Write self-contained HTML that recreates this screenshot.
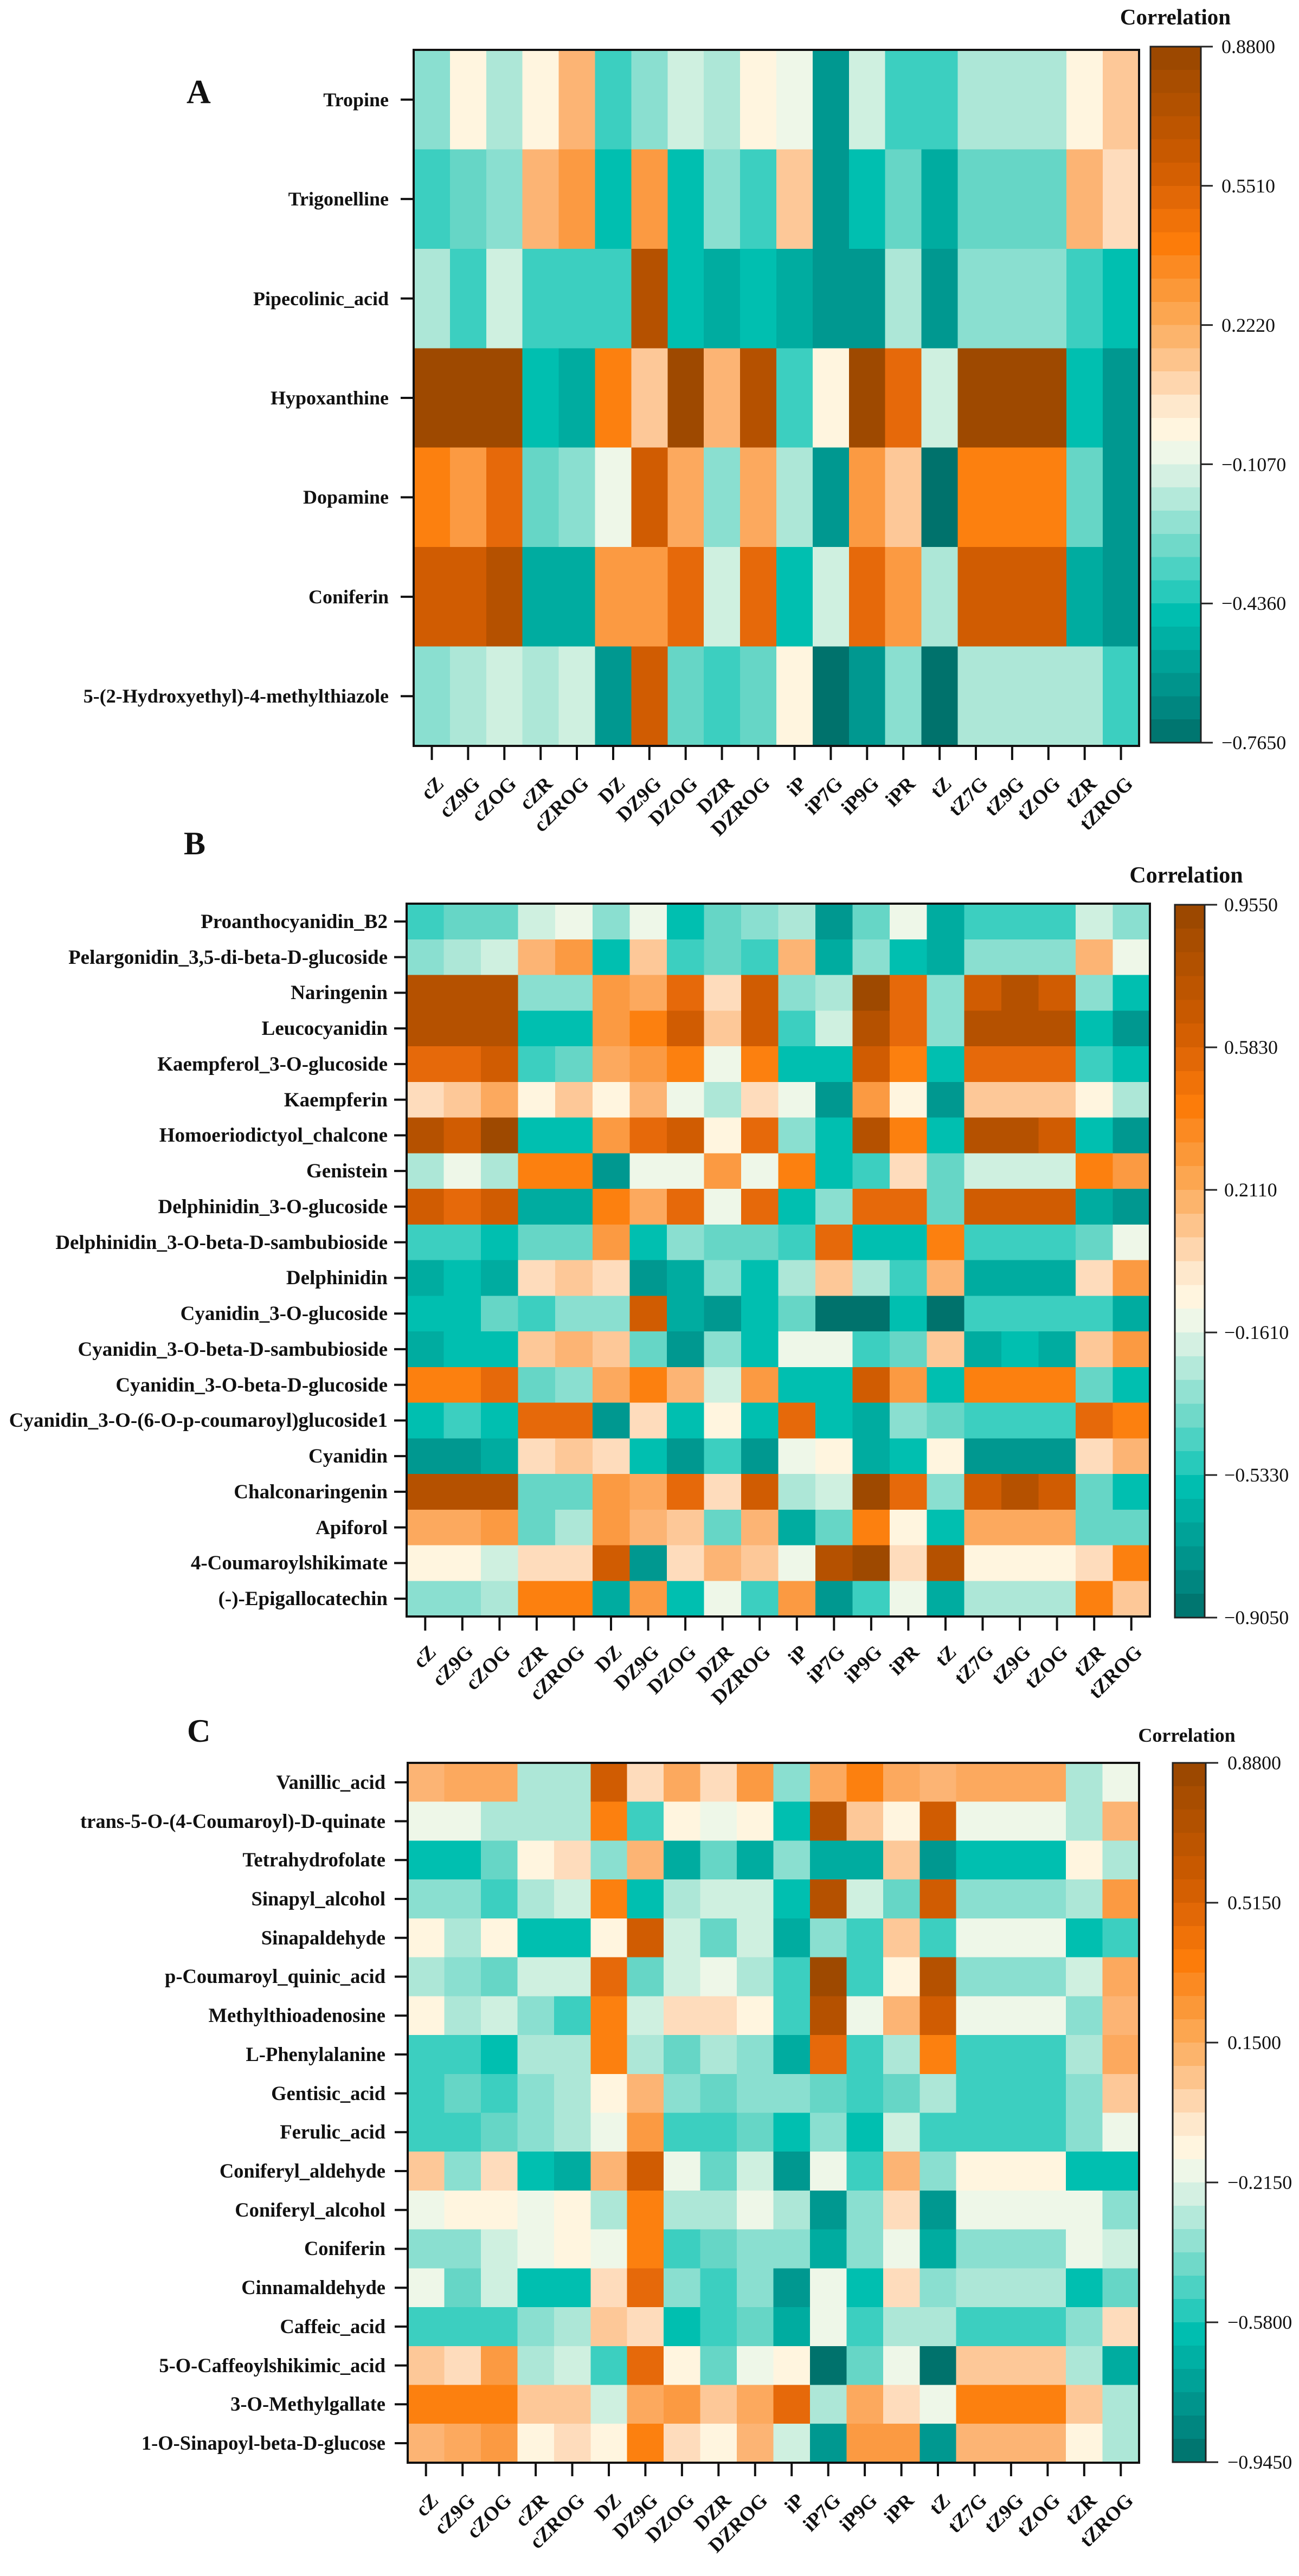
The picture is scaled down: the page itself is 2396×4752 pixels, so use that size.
<!DOCTYPE html>
<html><head><meta charset="utf-8"><style>
html,body{margin:0;padding:0;background:#fff}
svg{display:block}
text{font-family:"Liberation Serif","Times New Roman",serif;fill:#111}
.yl{font-weight:bold;font-size:36px;text-anchor:end}
.ylb{font-weight:bold;font-size:37px;text-anchor:end}
.xl{font-weight:bold;font-size:37px;text-anchor:end}
.cb{font-size:36px}
.ti{font-weight:bold;text-anchor:middle}
.t0{fill:#00726c}.t1{fill:#009890}.t2{fill:#00aca0}.t3{fill:#00bfb0}.t4{fill:#3ccfc0}.t5{fill:#66d6c6}.t6{fill:#8adfd0}.t7{fill:#ade7d7}.t8{fill:#cff0e0}.w1{fill:#eef7e8}.w2{fill:#fff5df}.o1{fill:#fedcbc}.o2{fill:#fdc898}.o3{fill:#fcb474}.oq{fill:#fca95e}.o4{fill:#fb9a42}.o5{fill:#fc800f}.o6{fill:#e6690a}.o7{fill:#d05c02}.o8{fill:#b55100}.o9{fill:#9e4900}
</style></head><body>
<svg width="2396" height="4752" viewBox="0 0 2396 4752" xmlns="http://www.w3.org/2000/svg">
<rect width="2396" height="4752" fill="#fff"/>
<defs>
<g id="cbar">
<rect x="0" y="0" width="1" height="1" fill="#9c4800"/><rect x="0" y="1" width="1" height="1" fill="#a84d00"/><rect x="0" y="2" width="1" height="1" fill="#b25100"/><rect x="0" y="3" width="1" height="1" fill="#bd5500"/><rect x="0" y="4" width="1" height="1" fill="#c85900"/><rect x="0" y="5" width="1" height="1" fill="#d45f02"/><rect x="0" y="6" width="1" height="1" fill="#e26806"/><rect x="0" y="7" width="1" height="1" fill="#f07208"/><rect x="0" y="8" width="1" height="1" fill="#fc7c0a"/><rect x="0" y="9" width="1" height="1" fill="#fb8a22"/><rect x="0" y="10" width="1" height="1" fill="#fb9838"/><rect x="0" y="11" width="1" height="1" fill="#fca650"/><rect x="0" y="12" width="1" height="1" fill="#fcb46c"/><rect x="0" y="13" width="1" height="1" fill="#fdc48c"/><rect x="0" y="14" width="1" height="1" fill="#fed6ae"/><rect x="0" y="15" width="1" height="1" fill="#fee8cc"/><rect x="0" y="16" width="1" height="1" fill="#fff5df"/><rect x="0" y="17" width="1" height="1" fill="#eef7e8"/><rect x="0" y="18" width="1" height="1" fill="#d4f0e2"/><rect x="0" y="19" width="1" height="1" fill="#b4e9da"/><rect x="0" y="20" width="1" height="1" fill="#92e1d2"/><rect x="0" y="21" width="1" height="1" fill="#70d9c9"/><rect x="0" y="22" width="1" height="1" fill="#4cd2c3"/><rect x="0" y="23" width="1" height="1" fill="#28cabb"/><rect x="0" y="24" width="1" height="1" fill="#00beb0"/><rect x="0" y="25" width="1" height="1" fill="#00b0a4"/><rect x="0" y="26" width="1" height="1" fill="#00a298"/><rect x="0" y="27" width="1" height="1" fill="#00948c"/><rect x="0" y="28" width="1" height="1" fill="#008680"/><rect x="0" y="29" width="1" height="1" fill="#007670"/>
</g>
</defs>

<!-- ================= PANEL A ================= -->
<text x="344" y="190" class="ti" style="font-size:62px;text-anchor:start">A</text>
<text x="2168" y="45" class="ti" style="font-size:41px">Correlation</text>

<g transform="translate(763,92) scale(66.9,183.43)" shape-rendering="crispEdges">
<rect x="0" y="0" width="1" height="1" class="t6"/><rect x="1" y="0" width="1" height="1" class="w2"/><rect x="2" y="0" width="1" height="1" class="t7"/><rect x="3" y="0" width="1" height="1" class="w2"/><rect x="4" y="0" width="1" height="1" class="o3"/><rect x="5" y="0" width="1" height="1" class="t4"/><rect x="6" y="0" width="1" height="1" class="t6"/><rect x="7" y="0" width="1" height="1" class="t8"/><rect x="8" y="0" width="1" height="1" class="t7"/><rect x="9" y="0" width="1" height="1" class="w2"/><rect x="10" y="0" width="1" height="1" class="w1"/><rect x="11" y="0" width="1" height="1" class="t1"/><rect x="12" y="0" width="1" height="1" class="t8"/><rect x="13" y="0" width="1" height="1" class="t4"/><rect x="14" y="0" width="1" height="1" class="t4"/><rect x="15" y="0" width="1" height="1" class="t7"/><rect x="16" y="0" width="1" height="1" class="t7"/><rect x="17" y="0" width="1" height="1" class="t7"/><rect x="18" y="0" width="1" height="1" class="w2"/><rect x="19" y="0" width="1" height="1" class="o2"/>
<rect x="0" y="1" width="1" height="1" class="t4"/><rect x="1" y="1" width="1" height="1" class="t5"/><rect x="2" y="1" width="1" height="1" class="t6"/><rect x="3" y="1" width="1" height="1" class="o3"/><rect x="4" y="1" width="1" height="1" class="o4"/><rect x="5" y="1" width="1" height="1" class="t3"/><rect x="6" y="1" width="1" height="1" class="o4"/><rect x="7" y="1" width="1" height="1" class="t3"/><rect x="8" y="1" width="1" height="1" class="t6"/><rect x="9" y="1" width="1" height="1" class="t4"/><rect x="10" y="1" width="1" height="1" class="o2"/><rect x="11" y="1" width="1" height="1" class="t1"/><rect x="12" y="1" width="1" height="1" class="t3"/><rect x="13" y="1" width="1" height="1" class="t5"/><rect x="14" y="1" width="1" height="1" class="t2"/><rect x="15" y="1" width="1" height="1" class="t5"/><rect x="16" y="1" width="1" height="1" class="t5"/><rect x="17" y="1" width="1" height="1" class="t5"/><rect x="18" y="1" width="1" height="1" class="o3"/><rect x="19" y="1" width="1" height="1" class="o1"/>
<rect x="0" y="2" width="1" height="1" class="t7"/><rect x="1" y="2" width="1" height="1" class="t4"/><rect x="2" y="2" width="1" height="1" class="t8"/><rect x="3" y="2" width="1" height="1" class="t4"/><rect x="4" y="2" width="1" height="1" class="t4"/><rect x="5" y="2" width="1" height="1" class="t4"/><rect x="6" y="2" width="1" height="1" class="o8"/><rect x="7" y="2" width="1" height="1" class="t3"/><rect x="8" y="2" width="1" height="1" class="t2"/><rect x="9" y="2" width="1" height="1" class="t3"/><rect x="10" y="2" width="1" height="1" class="t2"/><rect x="11" y="2" width="1" height="1" class="t1"/><rect x="12" y="2" width="1" height="1" class="t1"/><rect x="13" y="2" width="1" height="1" class="t7"/><rect x="14" y="2" width="1" height="1" class="t1"/><rect x="15" y="2" width="1" height="1" class="t6"/><rect x="16" y="2" width="1" height="1" class="t6"/><rect x="17" y="2" width="1" height="1" class="t6"/><rect x="18" y="2" width="1" height="1" class="t4"/><rect x="19" y="2" width="1" height="1" class="t3"/>
<rect x="0" y="3" width="1" height="1" class="o9"/><rect x="1" y="3" width="1" height="1" class="o9"/><rect x="2" y="3" width="1" height="1" class="o9"/><rect x="3" y="3" width="1" height="1" class="t3"/><rect x="4" y="3" width="1" height="1" class="t2"/><rect x="5" y="3" width="1" height="1" class="o5"/><rect x="6" y="3" width="1" height="1" class="o2"/><rect x="7" y="3" width="1" height="1" class="o9"/><rect x="8" y="3" width="1" height="1" class="o3"/><rect x="9" y="3" width="1" height="1" class="o8"/><rect x="10" y="3" width="1" height="1" class="t4"/><rect x="11" y="3" width="1" height="1" class="w2"/><rect x="12" y="3" width="1" height="1" class="o9"/><rect x="13" y="3" width="1" height="1" class="o6"/><rect x="14" y="3" width="1" height="1" class="t8"/><rect x="15" y="3" width="1" height="1" class="o9"/><rect x="16" y="3" width="1" height="1" class="o9"/><rect x="17" y="3" width="1" height="1" class="o9"/><rect x="18" y="3" width="1" height="1" class="t3"/><rect x="19" y="3" width="1" height="1" class="t1"/>
<rect x="0" y="4" width="1" height="1" class="o5"/><rect x="1" y="4" width="1" height="1" class="o4"/><rect x="2" y="4" width="1" height="1" class="o6"/><rect x="3" y="4" width="1" height="1" class="t5"/><rect x="4" y="4" width="1" height="1" class="t6"/><rect x="5" y="4" width="1" height="1" class="w1"/><rect x="6" y="4" width="1" height="1" class="o7"/><rect x="7" y="4" width="1" height="1" class="oq"/><rect x="8" y="4" width="1" height="1" class="t6"/><rect x="9" y="4" width="1" height="1" class="oq"/><rect x="10" y="4" width="1" height="1" class="t7"/><rect x="11" y="4" width="1" height="1" class="t1"/><rect x="12" y="4" width="1" height="1" class="o4"/><rect x="13" y="4" width="1" height="1" class="o2"/><rect x="14" y="4" width="1" height="1" class="t0"/><rect x="15" y="4" width="1" height="1" class="o5"/><rect x="16" y="4" width="1" height="1" class="o5"/><rect x="17" y="4" width="1" height="1" class="o5"/><rect x="18" y="4" width="1" height="1" class="t5"/><rect x="19" y="4" width="1" height="1" class="t1"/>
<rect x="0" y="5" width="1" height="1" class="o7"/><rect x="1" y="5" width="1" height="1" class="o7"/><rect x="2" y="5" width="1" height="1" class="o8"/><rect x="3" y="5" width="1" height="1" class="t2"/><rect x="4" y="5" width="1" height="1" class="t2"/><rect x="5" y="5" width="1" height="1" class="o4"/><rect x="6" y="5" width="1" height="1" class="o4"/><rect x="7" y="5" width="1" height="1" class="o6"/><rect x="8" y="5" width="1" height="1" class="t8"/><rect x="9" y="5" width="1" height="1" class="o6"/><rect x="10" y="5" width="1" height="1" class="t3"/><rect x="11" y="5" width="1" height="1" class="t8"/><rect x="12" y="5" width="1" height="1" class="o6"/><rect x="13" y="5" width="1" height="1" class="o4"/><rect x="14" y="5" width="1" height="1" class="t7"/><rect x="15" y="5" width="1" height="1" class="o7"/><rect x="16" y="5" width="1" height="1" class="o7"/><rect x="17" y="5" width="1" height="1" class="o7"/><rect x="18" y="5" width="1" height="1" class="t2"/><rect x="19" y="5" width="1" height="1" class="t1"/>
<rect x="0" y="6" width="1" height="1" class="t6"/><rect x="1" y="6" width="1" height="1" class="t7"/><rect x="2" y="6" width="1" height="1" class="t8"/><rect x="3" y="6" width="1" height="1" class="t7"/><rect x="4" y="6" width="1" height="1" class="t8"/><rect x="5" y="6" width="1" height="1" class="t1"/><rect x="6" y="6" width="1" height="1" class="o7"/><rect x="7" y="6" width="1" height="1" class="t5"/><rect x="8" y="6" width="1" height="1" class="t4"/><rect x="9" y="6" width="1" height="1" class="t5"/><rect x="10" y="6" width="1" height="1" class="w2"/><rect x="11" y="6" width="1" height="1" class="t0"/><rect x="12" y="6" width="1" height="1" class="t1"/><rect x="13" y="6" width="1" height="1" class="t6"/><rect x="14" y="6" width="1" height="1" class="t0"/><rect x="15" y="6" width="1" height="1" class="t7"/><rect x="16" y="6" width="1" height="1" class="t7"/><rect x="17" y="6" width="1" height="1" class="t7"/><rect x="18" y="6" width="1" height="1" class="t7"/><rect x="19" y="6" width="1" height="1" class="t4"/>
</g>
<rect x="763" y="92" width="1338" height="1284" fill="none" stroke="#111" stroke-width="4"/>

<path d="M739 183.7h24M739 367.1h24M739 550.6h24M739 734h24M739 917.4h24M739 1100.9h24M739 1284.3h24" stroke="#111" stroke-width="4"/>
<text class="yl" x="717" y="196">Tropine</text>
<text class="yl" x="717" y="379">Trigonelline</text>
<text class="yl" x="717" y="563">Pipecolinic_acid</text>
<text class="yl" x="717" y="746">Hypoxanthine</text>
<text class="yl" x="717" y="929">Dopamine</text>
<text class="yl" x="717" y="1113">Coniferin</text>
<text class="yl" x="717" y="1296">5-(2-Hydroxyethyl)-4-methylthiazole</text>

<path d="M796.5 1376v26M863.4 1376v26M930.3 1376v26M997.2 1376v26M1064 1376v26M1131 1376v26M1197.8 1376v26M1264.7 1376v26M1331.6 1376v26M1398.5 1376v26M1465.5 1376v26M1532.4 1376v26M1599.3 1376v26M1666.2 1376v26M1733.1 1376v26M1800 1376v26M1866.9 1376v26M1933.8 1376v26M2000.7 1376v26M2067.6 1376v26" stroke="#111" stroke-width="4"/>
<text class="xl" transform="translate(820.5,1448) rotate(-45)">cZ</text>
<text class="xl" transform="translate(887.4,1448) rotate(-45)">cZ9G</text>
<text class="xl" transform="translate(954.3,1448) rotate(-45)">cZOG</text>
<text class="xl" transform="translate(1021.2,1448) rotate(-45)">cZR</text>
<text class="xl" transform="translate(1088,1448) rotate(-45)">cZROG</text>
<text class="xl" transform="translate(1155,1448) rotate(-45)">DZ</text>
<text class="xl" transform="translate(1221.8,1448) rotate(-45)">DZ9G</text>
<text class="xl" transform="translate(1288.7,1448) rotate(-45)">DZOG</text>
<text class="xl" transform="translate(1355.6,1448) rotate(-45)">DZR</text>
<text class="xl" transform="translate(1422.5,1448) rotate(-45)">DZROG</text>
<text class="xl" transform="translate(1489.5,1448) rotate(-45)">iP</text>
<text class="xl" transform="translate(1556.4,1448) rotate(-45)">iP7G</text>
<text class="xl" transform="translate(1623.3,1448) rotate(-45)">iP9G</text>
<text class="xl" transform="translate(1690.2,1448) rotate(-45)">iPR</text>
<text class="xl" transform="translate(1757.1,1448) rotate(-45)">tZ</text>
<text class="xl" transform="translate(1824,1448) rotate(-45)">tZ7G</text>
<text class="xl" transform="translate(1890.9,1448) rotate(-45)">tZ9G</text>
<text class="xl" transform="translate(1957.8,1448) rotate(-45)">tZOG</text>
<text class="xl" transform="translate(2024.7,1448) rotate(-45)">tZR</text>
<text class="xl" transform="translate(2091.6,1448) rotate(-45)">tZROG</text>

<use href="#cbar" transform="translate(2122,86) scale(93,42.8)" shape-rendering="crispEdges"/>
<rect x="2122" y="86" width="93" height="1284" fill="none" stroke="#222" stroke-width="3"/>
<path d="M2215 86h22M2215 342.8h22M2215 599.6h22M2215 856.4h22M2215 1113.2h22M2215 1370h22" stroke="#222" stroke-width="3"/>
<text class="cb" x="2253" y="98">0.8800</text>
<text class="cb" x="2253" y="355">0.5510</text>
<text class="cb" x="2253" y="612">0.2220</text>
<text class="cb" x="2253" y="869">−0.1070</text>
<text class="cb" x="2253" y="1125">−0.4360</text>
<text class="cb" x="2253" y="1382">−0.7650</text>

<!-- ================= PANEL B ================= -->
<text x="339" y="1576" class="ti" style="font-size:60px;text-anchor:start">B</text>
<text x="2188" y="1628" class="ti" style="font-size:42px">Correlation</text>

<g transform="translate(750,1667) scale(68.55,65.75)" shape-rendering="crispEdges">
<rect x="0" y="0" width="1" height="1" class="t4"/><rect x="1" y="0" width="1" height="1" class="t5"/><rect x="2" y="0" width="1" height="1" class="t5"/><rect x="3" y="0" width="1" height="1" class="t8"/><rect x="4" y="0" width="1" height="1" class="w1"/><rect x="5" y="0" width="1" height="1" class="t6"/><rect x="6" y="0" width="1" height="1" class="w1"/><rect x="7" y="0" width="1" height="1" class="t3"/><rect x="8" y="0" width="1" height="1" class="t5"/><rect x="9" y="0" width="1" height="1" class="t6"/><rect x="10" y="0" width="1" height="1" class="t7"/><rect x="11" y="0" width="1" height="1" class="t1"/><rect x="12" y="0" width="1" height="1" class="t5"/><rect x="13" y="0" width="1" height="1" class="w1"/><rect x="14" y="0" width="1" height="1" class="t2"/><rect x="15" y="0" width="1" height="1" class="t4"/><rect x="16" y="0" width="1" height="1" class="t4"/><rect x="17" y="0" width="1" height="1" class="t4"/><rect x="18" y="0" width="1" height="1" class="t8"/><rect x="19" y="0" width="1" height="1" class="t6"/>
<rect x="0" y="1" width="1" height="1" class="t6"/><rect x="1" y="1" width="1" height="1" class="t7"/><rect x="2" y="1" width="1" height="1" class="t8"/><rect x="3" y="1" width="1" height="1" class="o3"/><rect x="4" y="1" width="1" height="1" class="o4"/><rect x="5" y="1" width="1" height="1" class="t3"/><rect x="6" y="1" width="1" height="1" class="o2"/><rect x="7" y="1" width="1" height="1" class="t4"/><rect x="8" y="1" width="1" height="1" class="t5"/><rect x="9" y="1" width="1" height="1" class="t4"/><rect x="10" y="1" width="1" height="1" class="o3"/><rect x="11" y="1" width="1" height="1" class="t2"/><rect x="12" y="1" width="1" height="1" class="t6"/><rect x="13" y="1" width="1" height="1" class="t3"/><rect x="14" y="1" width="1" height="1" class="t2"/><rect x="15" y="1" width="1" height="1" class="t6"/><rect x="16" y="1" width="1" height="1" class="t6"/><rect x="17" y="1" width="1" height="1" class="t6"/><rect x="18" y="1" width="1" height="1" class="o3"/><rect x="19" y="1" width="1" height="1" class="w1"/>
<rect x="0" y="2" width="1" height="1" class="o8"/><rect x="1" y="2" width="1" height="1" class="o8"/><rect x="2" y="2" width="1" height="1" class="o8"/><rect x="3" y="2" width="1" height="1" class="t6"/><rect x="4" y="2" width="1" height="1" class="t6"/><rect x="5" y="2" width="1" height="1" class="o4"/><rect x="6" y="2" width="1" height="1" class="oq"/><rect x="7" y="2" width="1" height="1" class="o6"/><rect x="8" y="2" width="1" height="1" class="o1"/><rect x="9" y="2" width="1" height="1" class="o7"/><rect x="10" y="2" width="1" height="1" class="t6"/><rect x="11" y="2" width="1" height="1" class="t7"/><rect x="12" y="2" width="1" height="1" class="o9"/><rect x="13" y="2" width="1" height="1" class="o6"/><rect x="14" y="2" width="1" height="1" class="t6"/><rect x="15" y="2" width="1" height="1" class="o7"/><rect x="16" y="2" width="1" height="1" class="o8"/><rect x="17" y="2" width="1" height="1" class="o7"/><rect x="18" y="2" width="1" height="1" class="t6"/><rect x="19" y="2" width="1" height="1" class="t3"/>
<rect x="0" y="3" width="1" height="1" class="o8"/><rect x="1" y="3" width="1" height="1" class="o8"/><rect x="2" y="3" width="1" height="1" class="o8"/><rect x="3" y="3" width="1" height="1" class="t3"/><rect x="4" y="3" width="1" height="1" class="t3"/><rect x="5" y="3" width="1" height="1" class="o4"/><rect x="6" y="3" width="1" height="1" class="o5"/><rect x="7" y="3" width="1" height="1" class="o7"/><rect x="8" y="3" width="1" height="1" class="o2"/><rect x="9" y="3" width="1" height="1" class="o7"/><rect x="10" y="3" width="1" height="1" class="t4"/><rect x="11" y="3" width="1" height="1" class="t8"/><rect x="12" y="3" width="1" height="1" class="o8"/><rect x="13" y="3" width="1" height="1" class="o6"/><rect x="14" y="3" width="1" height="1" class="t6"/><rect x="15" y="3" width="1" height="1" class="o8"/><rect x="16" y="3" width="1" height="1" class="o8"/><rect x="17" y="3" width="1" height="1" class="o8"/><rect x="18" y="3" width="1" height="1" class="t3"/><rect x="19" y="3" width="1" height="1" class="t1"/>
<rect x="0" y="4" width="1" height="1" class="o6"/><rect x="1" y="4" width="1" height="1" class="o6"/><rect x="2" y="4" width="1" height="1" class="o7"/><rect x="3" y="4" width="1" height="1" class="t4"/><rect x="4" y="4" width="1" height="1" class="t5"/><rect x="5" y="4" width="1" height="1" class="oq"/><rect x="6" y="4" width="1" height="1" class="o4"/><rect x="7" y="4" width="1" height="1" class="o5"/><rect x="8" y="4" width="1" height="1" class="w1"/><rect x="9" y="4" width="1" height="1" class="o5"/><rect x="10" y="4" width="1" height="1" class="t3"/><rect x="11" y="4" width="1" height="1" class="t3"/><rect x="12" y="4" width="1" height="1" class="o7"/><rect x="13" y="4" width="1" height="1" class="o5"/><rect x="14" y="4" width="1" height="1" class="t3"/><rect x="15" y="4" width="1" height="1" class="o6"/><rect x="16" y="4" width="1" height="1" class="o6"/><rect x="17" y="4" width="1" height="1" class="o6"/><rect x="18" y="4" width="1" height="1" class="t4"/><rect x="19" y="4" width="1" height="1" class="t3"/>
<rect x="0" y="5" width="1" height="1" class="o1"/><rect x="1" y="5" width="1" height="1" class="o2"/><rect x="2" y="5" width="1" height="1" class="oq"/><rect x="3" y="5" width="1" height="1" class="w2"/><rect x="4" y="5" width="1" height="1" class="o2"/><rect x="5" y="5" width="1" height="1" class="w2"/><rect x="6" y="5" width="1" height="1" class="o3"/><rect x="7" y="5" width="1" height="1" class="w1"/><rect x="8" y="5" width="1" height="1" class="t7"/><rect x="9" y="5" width="1" height="1" class="o1"/><rect x="10" y="5" width="1" height="1" class="w1"/><rect x="11" y="5" width="1" height="1" class="t1"/><rect x="12" y="5" width="1" height="1" class="o4"/><rect x="13" y="5" width="1" height="1" class="w2"/><rect x="14" y="5" width="1" height="1" class="t1"/><rect x="15" y="5" width="1" height="1" class="o2"/><rect x="16" y="5" width="1" height="1" class="o2"/><rect x="17" y="5" width="1" height="1" class="o2"/><rect x="18" y="5" width="1" height="1" class="w2"/><rect x="19" y="5" width="1" height="1" class="t7"/>
<rect x="0" y="6" width="1" height="1" class="o8"/><rect x="1" y="6" width="1" height="1" class="o7"/><rect x="2" y="6" width="1" height="1" class="o9"/><rect x="3" y="6" width="1" height="1" class="t3"/><rect x="4" y="6" width="1" height="1" class="t3"/><rect x="5" y="6" width="1" height="1" class="o4"/><rect x="6" y="6" width="1" height="1" class="o6"/><rect x="7" y="6" width="1" height="1" class="o7"/><rect x="8" y="6" width="1" height="1" class="w2"/><rect x="9" y="6" width="1" height="1" class="o6"/><rect x="10" y="6" width="1" height="1" class="t6"/><rect x="11" y="6" width="1" height="1" class="t3"/><rect x="12" y="6" width="1" height="1" class="o8"/><rect x="13" y="6" width="1" height="1" class="o5"/><rect x="14" y="6" width="1" height="1" class="t3"/><rect x="15" y="6" width="1" height="1" class="o8"/><rect x="16" y="6" width="1" height="1" class="o8"/><rect x="17" y="6" width="1" height="1" class="o7"/><rect x="18" y="6" width="1" height="1" class="t3"/><rect x="19" y="6" width="1" height="1" class="t1"/>
<rect x="0" y="7" width="1" height="1" class="t7"/><rect x="1" y="7" width="1" height="1" class="w1"/><rect x="2" y="7" width="1" height="1" class="t7"/><rect x="3" y="7" width="1" height="1" class="o5"/><rect x="4" y="7" width="1" height="1" class="o5"/><rect x="5" y="7" width="1" height="1" class="t1"/><rect x="6" y="7" width="1" height="1" class="w1"/><rect x="7" y="7" width="1" height="1" class="w1"/><rect x="8" y="7" width="1" height="1" class="o4"/><rect x="9" y="7" width="1" height="1" class="w1"/><rect x="10" y="7" width="1" height="1" class="o5"/><rect x="11" y="7" width="1" height="1" class="t3"/><rect x="12" y="7" width="1" height="1" class="t4"/><rect x="13" y="7" width="1" height="1" class="o1"/><rect x="14" y="7" width="1" height="1" class="t5"/><rect x="15" y="7" width="1" height="1" class="t8"/><rect x="16" y="7" width="1" height="1" class="t8"/><rect x="17" y="7" width="1" height="1" class="t8"/><rect x="18" y="7" width="1" height="1" class="o5"/><rect x="19" y="7" width="1" height="1" class="o4"/>
<rect x="0" y="8" width="1" height="1" class="o7"/><rect x="1" y="8" width="1" height="1" class="o6"/><rect x="2" y="8" width="1" height="1" class="o7"/><rect x="3" y="8" width="1" height="1" class="t2"/><rect x="4" y="8" width="1" height="1" class="t2"/><rect x="5" y="8" width="1" height="1" class="o5"/><rect x="6" y="8" width="1" height="1" class="oq"/><rect x="7" y="8" width="1" height="1" class="o6"/><rect x="8" y="8" width="1" height="1" class="w1"/><rect x="9" y="8" width="1" height="1" class="o6"/><rect x="10" y="8" width="1" height="1" class="t3"/><rect x="11" y="8" width="1" height="1" class="t6"/><rect x="12" y="8" width="1" height="1" class="o6"/><rect x="13" y="8" width="1" height="1" class="o6"/><rect x="14" y="8" width="1" height="1" class="t5"/><rect x="15" y="8" width="1" height="1" class="o7"/><rect x="16" y="8" width="1" height="1" class="o7"/><rect x="17" y="8" width="1" height="1" class="o7"/><rect x="18" y="8" width="1" height="1" class="t2"/><rect x="19" y="8" width="1" height="1" class="t1"/>
<rect x="0" y="9" width="1" height="1" class="t4"/><rect x="1" y="9" width="1" height="1" class="t4"/><rect x="2" y="9" width="1" height="1" class="t3"/><rect x="3" y="9" width="1" height="1" class="t5"/><rect x="4" y="9" width="1" height="1" class="t5"/><rect x="5" y="9" width="1" height="1" class="o4"/><rect x="6" y="9" width="1" height="1" class="t3"/><rect x="7" y="9" width="1" height="1" class="t6"/><rect x="8" y="9" width="1" height="1" class="t5"/><rect x="9" y="9" width="1" height="1" class="t5"/><rect x="10" y="9" width="1" height="1" class="t4"/><rect x="11" y="9" width="1" height="1" class="o6"/><rect x="12" y="9" width="1" height="1" class="t3"/><rect x="13" y="9" width="1" height="1" class="t3"/><rect x="14" y="9" width="1" height="1" class="o5"/><rect x="15" y="9" width="1" height="1" class="t4"/><rect x="16" y="9" width="1" height="1" class="t4"/><rect x="17" y="9" width="1" height="1" class="t4"/><rect x="18" y="9" width="1" height="1" class="t5"/><rect x="19" y="9" width="1" height="1" class="w1"/>
<rect x="0" y="10" width="1" height="1" class="t2"/><rect x="1" y="10" width="1" height="1" class="t3"/><rect x="2" y="10" width="1" height="1" class="t2"/><rect x="3" y="10" width="1" height="1" class="o1"/><rect x="4" y="10" width="1" height="1" class="o2"/><rect x="5" y="10" width="1" height="1" class="o1"/><rect x="6" y="10" width="1" height="1" class="t1"/><rect x="7" y="10" width="1" height="1" class="t2"/><rect x="8" y="10" width="1" height="1" class="t6"/><rect x="9" y="10" width="1" height="1" class="t3"/><rect x="10" y="10" width="1" height="1" class="t7"/><rect x="11" y="10" width="1" height="1" class="o2"/><rect x="12" y="10" width="1" height="1" class="t7"/><rect x="13" y="10" width="1" height="1" class="t4"/><rect x="14" y="10" width="1" height="1" class="o3"/><rect x="15" y="10" width="1" height="1" class="t2"/><rect x="16" y="10" width="1" height="1" class="t2"/><rect x="17" y="10" width="1" height="1" class="t2"/><rect x="18" y="10" width="1" height="1" class="o1"/><rect x="19" y="10" width="1" height="1" class="o4"/>
<rect x="0" y="11" width="1" height="1" class="t3"/><rect x="1" y="11" width="1" height="1" class="t3"/><rect x="2" y="11" width="1" height="1" class="t5"/><rect x="3" y="11" width="1" height="1" class="t4"/><rect x="4" y="11" width="1" height="1" class="t6"/><rect x="5" y="11" width="1" height="1" class="t6"/><rect x="6" y="11" width="1" height="1" class="o7"/><rect x="7" y="11" width="1" height="1" class="t2"/><rect x="8" y="11" width="1" height="1" class="t1"/><rect x="9" y="11" width="1" height="1" class="t3"/><rect x="10" y="11" width="1" height="1" class="t5"/><rect x="11" y="11" width="1" height="1" class="t0"/><rect x="12" y="11" width="1" height="1" class="t0"/><rect x="13" y="11" width="1" height="1" class="t3"/><rect x="14" y="11" width="1" height="1" class="t0"/><rect x="15" y="11" width="1" height="1" class="t4"/><rect x="16" y="11" width="1" height="1" class="t4"/><rect x="17" y="11" width="1" height="1" class="t4"/><rect x="18" y="11" width="1" height="1" class="t4"/><rect x="19" y="11" width="1" height="1" class="t2"/>
<rect x="0" y="12" width="1" height="1" class="t2"/><rect x="1" y="12" width="1" height="1" class="t3"/><rect x="2" y="12" width="1" height="1" class="t3"/><rect x="3" y="12" width="1" height="1" class="o2"/><rect x="4" y="12" width="1" height="1" class="o3"/><rect x="5" y="12" width="1" height="1" class="o2"/><rect x="6" y="12" width="1" height="1" class="t5"/><rect x="7" y="12" width="1" height="1" class="t1"/><rect x="8" y="12" width="1" height="1" class="t6"/><rect x="9" y="12" width="1" height="1" class="t3"/><rect x="10" y="12" width="1" height="1" class="w1"/><rect x="11" y="12" width="1" height="1" class="w1"/><rect x="12" y="12" width="1" height="1" class="t4"/><rect x="13" y="12" width="1" height="1" class="t5"/><rect x="14" y="12" width="1" height="1" class="o2"/><rect x="15" y="12" width="1" height="1" class="t2"/><rect x="16" y="12" width="1" height="1" class="t3"/><rect x="17" y="12" width="1" height="1" class="t2"/><rect x="18" y="12" width="1" height="1" class="o2"/><rect x="19" y="12" width="1" height="1" class="o4"/>
<rect x="0" y="13" width="1" height="1" class="o5"/><rect x="1" y="13" width="1" height="1" class="o5"/><rect x="2" y="13" width="1" height="1" class="o6"/><rect x="3" y="13" width="1" height="1" class="t5"/><rect x="4" y="13" width="1" height="1" class="t6"/><rect x="5" y="13" width="1" height="1" class="oq"/><rect x="6" y="13" width="1" height="1" class="o5"/><rect x="7" y="13" width="1" height="1" class="o3"/><rect x="8" y="13" width="1" height="1" class="t8"/><rect x="9" y="13" width="1" height="1" class="o4"/><rect x="10" y="13" width="1" height="1" class="t3"/><rect x="11" y="13" width="1" height="1" class="t3"/><rect x="12" y="13" width="1" height="1" class="o7"/><rect x="13" y="13" width="1" height="1" class="o4"/><rect x="14" y="13" width="1" height="1" class="t3"/><rect x="15" y="13" width="1" height="1" class="o5"/><rect x="16" y="13" width="1" height="1" class="o5"/><rect x="17" y="13" width="1" height="1" class="o5"/><rect x="18" y="13" width="1" height="1" class="t5"/><rect x="19" y="13" width="1" height="1" class="t3"/>
<rect x="0" y="14" width="1" height="1" class="t3"/><rect x="1" y="14" width="1" height="1" class="t4"/><rect x="2" y="14" width="1" height="1" class="t3"/><rect x="3" y="14" width="1" height="1" class="o6"/><rect x="4" y="14" width="1" height="1" class="o6"/><rect x="5" y="14" width="1" height="1" class="t1"/><rect x="6" y="14" width="1" height="1" class="o1"/><rect x="7" y="14" width="1" height="1" class="t3"/><rect x="8" y="14" width="1" height="1" class="w2"/><rect x="9" y="14" width="1" height="1" class="t3"/><rect x="10" y="14" width="1" height="1" class="o6"/><rect x="11" y="14" width="1" height="1" class="t3"/><rect x="12" y="14" width="1" height="1" class="t2"/><rect x="13" y="14" width="1" height="1" class="t6"/><rect x="14" y="14" width="1" height="1" class="t5"/><rect x="15" y="14" width="1" height="1" class="t4"/><rect x="16" y="14" width="1" height="1" class="t4"/><rect x="17" y="14" width="1" height="1" class="t4"/><rect x="18" y="14" width="1" height="1" class="o6"/><rect x="19" y="14" width="1" height="1" class="o5"/>
<rect x="0" y="15" width="1" height="1" class="t1"/><rect x="1" y="15" width="1" height="1" class="t1"/><rect x="2" y="15" width="1" height="1" class="t2"/><rect x="3" y="15" width="1" height="1" class="o1"/><rect x="4" y="15" width="1" height="1" class="o2"/><rect x="5" y="15" width="1" height="1" class="o1"/><rect x="6" y="15" width="1" height="1" class="t3"/><rect x="7" y="15" width="1" height="1" class="t1"/><rect x="8" y="15" width="1" height="1" class="t4"/><rect x="9" y="15" width="1" height="1" class="t1"/><rect x="10" y="15" width="1" height="1" class="w1"/><rect x="11" y="15" width="1" height="1" class="w2"/><rect x="12" y="15" width="1" height="1" class="t2"/><rect x="13" y="15" width="1" height="1" class="t3"/><rect x="14" y="15" width="1" height="1" class="w2"/><rect x="15" y="15" width="1" height="1" class="t1"/><rect x="16" y="15" width="1" height="1" class="t1"/><rect x="17" y="15" width="1" height="1" class="t1"/><rect x="18" y="15" width="1" height="1" class="o1"/><rect x="19" y="15" width="1" height="1" class="o3"/>
<rect x="0" y="16" width="1" height="1" class="o8"/><rect x="1" y="16" width="1" height="1" class="o8"/><rect x="2" y="16" width="1" height="1" class="o8"/><rect x="3" y="16" width="1" height="1" class="t5"/><rect x="4" y="16" width="1" height="1" class="t5"/><rect x="5" y="16" width="1" height="1" class="o4"/><rect x="6" y="16" width="1" height="1" class="oq"/><rect x="7" y="16" width="1" height="1" class="o6"/><rect x="8" y="16" width="1" height="1" class="o1"/><rect x="9" y="16" width="1" height="1" class="o7"/><rect x="10" y="16" width="1" height="1" class="t7"/><rect x="11" y="16" width="1" height="1" class="t8"/><rect x="12" y="16" width="1" height="1" class="o9"/><rect x="13" y="16" width="1" height="1" class="o6"/><rect x="14" y="16" width="1" height="1" class="t6"/><rect x="15" y="16" width="1" height="1" class="o7"/><rect x="16" y="16" width="1" height="1" class="o8"/><rect x="17" y="16" width="1" height="1" class="o7"/><rect x="18" y="16" width="1" height="1" class="t5"/><rect x="19" y="16" width="1" height="1" class="t3"/>
<rect x="0" y="17" width="1" height="1" class="oq"/><rect x="1" y="17" width="1" height="1" class="oq"/><rect x="2" y="17" width="1" height="1" class="o4"/><rect x="3" y="17" width="1" height="1" class="t5"/><rect x="4" y="17" width="1" height="1" class="t7"/><rect x="5" y="17" width="1" height="1" class="o4"/><rect x="6" y="17" width="1" height="1" class="o3"/><rect x="7" y="17" width="1" height="1" class="o2"/><rect x="8" y="17" width="1" height="1" class="t5"/><rect x="9" y="17" width="1" height="1" class="o3"/><rect x="10" y="17" width="1" height="1" class="t2"/><rect x="11" y="17" width="1" height="1" class="t5"/><rect x="12" y="17" width="1" height="1" class="o5"/><rect x="13" y="17" width="1" height="1" class="w2"/><rect x="14" y="17" width="1" height="1" class="t3"/><rect x="15" y="17" width="1" height="1" class="oq"/><rect x="16" y="17" width="1" height="1" class="oq"/><rect x="17" y="17" width="1" height="1" class="oq"/><rect x="18" y="17" width="1" height="1" class="t5"/><rect x="19" y="17" width="1" height="1" class="t5"/>
<rect x="0" y="18" width="1" height="1" class="w2"/><rect x="1" y="18" width="1" height="1" class="w2"/><rect x="2" y="18" width="1" height="1" class="t8"/><rect x="3" y="18" width="1" height="1" class="o1"/><rect x="4" y="18" width="1" height="1" class="o1"/><rect x="5" y="18" width="1" height="1" class="o7"/><rect x="6" y="18" width="1" height="1" class="t1"/><rect x="7" y="18" width="1" height="1" class="o1"/><rect x="8" y="18" width="1" height="1" class="o3"/><rect x="9" y="18" width="1" height="1" class="o2"/><rect x="10" y="18" width="1" height="1" class="w1"/><rect x="11" y="18" width="1" height="1" class="o8"/><rect x="12" y="18" width="1" height="1" class="o9"/><rect x="13" y="18" width="1" height="1" class="o1"/><rect x="14" y="18" width="1" height="1" class="o8"/><rect x="15" y="18" width="1" height="1" class="w2"/><rect x="16" y="18" width="1" height="1" class="w2"/><rect x="17" y="18" width="1" height="1" class="w2"/><rect x="18" y="18" width="1" height="1" class="o1"/><rect x="19" y="18" width="1" height="1" class="o5"/>
<rect x="0" y="19" width="1" height="1" class="t6"/><rect x="1" y="19" width="1" height="1" class="t6"/><rect x="2" y="19" width="1" height="1" class="t7"/><rect x="3" y="19" width="1" height="1" class="o5"/><rect x="4" y="19" width="1" height="1" class="o5"/><rect x="5" y="19" width="1" height="1" class="t2"/><rect x="6" y="19" width="1" height="1" class="o4"/><rect x="7" y="19" width="1" height="1" class="t3"/><rect x="8" y="19" width="1" height="1" class="w1"/><rect x="9" y="19" width="1" height="1" class="t4"/><rect x="10" y="19" width="1" height="1" class="o4"/><rect x="11" y="19" width="1" height="1" class="t1"/><rect x="12" y="19" width="1" height="1" class="t4"/><rect x="13" y="19" width="1" height="1" class="w1"/><rect x="14" y="19" width="1" height="1" class="t2"/><rect x="15" y="19" width="1" height="1" class="t7"/><rect x="16" y="19" width="1" height="1" class="t7"/><rect x="17" y="19" width="1" height="1" class="t7"/><rect x="18" y="19" width="1" height="1" class="o5"/><rect x="19" y="19" width="1" height="1" class="o2"/>
</g>
<rect x="750" y="1667" width="1371" height="1315" fill="none" stroke="#111" stroke-width="4"/>

<path d="M727 1699.9h23M727 1765.6h23M727 1831.4h23M727 1897.1h23M727 1962.9h23M727 2028.6h23M727 2094.4h23M727 2160.1h23M727 2225.9h23M727 2291.6h23M727 2357.4h23M727 2423.1h23M727 2488.9h23M727 2554.6h23M727 2620.4h23M727 2686.1h23M727 2751.9h23M727 2817.6h23M727 2883.4h23M727 2949.1h23" stroke="#111" stroke-width="4"/>
<text class="ylb" x="715" y="1712">Proanthocyanidin_B2</text>
<text class="ylb" x="715" y="1778">Pelargonidin_3,5-di-beta-D-glucoside</text>
<text class="ylb" x="715" y="1843">Naringenin</text>
<text class="ylb" x="715" y="1909">Leucocyanidin</text>
<text class="ylb" x="715" y="1975">Kaempferol_3-O-glucoside</text>
<text class="ylb" x="715" y="2041">Kaempferin</text>
<text class="ylb" x="715" y="2106">Homoeriodictyol_chalcone</text>
<text class="ylb" x="715" y="2172">Genistein</text>
<text class="ylb" x="715" y="2238">Delphinidin_3-O-glucoside</text>
<text class="ylb" x="715" y="2304">Delphinidin_3-O-beta-D-sambubioside</text>
<text class="ylb" x="715" y="2369">Delphinidin</text>
<text class="ylb" x="715" y="2435">Cyanidin_3-O-glucoside</text>
<text class="ylb" x="715" y="2501">Cyanidin_3-O-beta-D-sambubioside</text>
<text class="ylb" x="715" y="2567">Cyanidin_3-O-beta-D-glucoside</text>
<text class="ylb" x="715" y="2632">Cyanidin_3-O-(6-O-p-coumaroyl)glucoside1</text>
<text class="ylb" x="715" y="2698">Cyanidin</text>
<text class="ylb" x="715" y="2764">Chalconaringenin</text>
<text class="ylb" x="715" y="2830">Apiforol</text>
<text class="ylb" x="715" y="2895">4-Coumaroylshikimate</text>
<text class="ylb" x="715" y="2961">(-)-Epigallocatechin</text>

<path d="M784.3 2982v26M852.8 2982v26M921.4 2982v26M989.9 2982v26M1058.5 2982v26M1127 2982v26M1195.6 2982v26M1264.1 2982v26M1332.7 2982v26M1401.2 2982v26M1469.8 2982v26M1538.3 2982v26M1606.9 2982v26M1675.4 2982v26M1744 2982v26M1812.5 2982v26M1881.1 2982v26M1949.6 2982v26M2018.2 2982v26M2086.7 2982v26" stroke="#111" stroke-width="4"/>
<text class="xl" transform="translate(806.3,3050) rotate(-45)">cZ</text>
<text class="xl" transform="translate(874.8,3050) rotate(-45)">cZ9G</text>
<text class="xl" transform="translate(943.4,3050) rotate(-45)">cZOG</text>
<text class="xl" transform="translate(1011.9,3050) rotate(-45)">cZR</text>
<text class="xl" transform="translate(1080.5,3050) rotate(-45)">cZROG</text>
<text class="xl" transform="translate(1149,3050) rotate(-45)">DZ</text>
<text class="xl" transform="translate(1217.6,3050) rotate(-45)">DZ9G</text>
<text class="xl" transform="translate(1286.1,3050) rotate(-45)">DZOG</text>
<text class="xl" transform="translate(1354.7,3050) rotate(-45)">DZR</text>
<text class="xl" transform="translate(1423.2,3050) rotate(-45)">DZROG</text>
<text class="xl" transform="translate(1491.8,3050) rotate(-45)">iP</text>
<text class="xl" transform="translate(1560.3,3050) rotate(-45)">iP7G</text>
<text class="xl" transform="translate(1628.9,3050) rotate(-45)">iP9G</text>
<text class="xl" transform="translate(1697.4,3050) rotate(-45)">iPR</text>
<text class="xl" transform="translate(1766,3050) rotate(-45)">tZ</text>
<text class="xl" transform="translate(1834.5,3050) rotate(-45)">tZ7G</text>
<text class="xl" transform="translate(1903.1,3050) rotate(-45)">tZ9G</text>
<text class="xl" transform="translate(1971.6,3050) rotate(-45)">tZOG</text>
<text class="xl" transform="translate(2040.2,3050) rotate(-45)">tZR</text>
<text class="xl" transform="translate(2108.7,3050) rotate(-45)">tZROG</text>

<use href="#cbar" transform="translate(2167,1669) scale(55,43.833)" shape-rendering="crispEdges"/>
<rect x="2167" y="1669" width="55" height="1315" fill="none" stroke="#222" stroke-width="3"/>
<path d="M2222 1669h23M2222 1932h23M2222 2195h23M2222 2458h23M2222 2721h23M2222 2984h23" stroke="#222" stroke-width="3"/>
<text class="cb" x="2258" y="1681">0.9550</text>
<text class="cb" x="2258" y="1944">0.5830</text>
<text class="cb" x="2258" y="2207">0.2110</text>
<text class="cb" x="2258" y="2470">−0.1610</text>
<text class="cb" x="2258" y="2733">−0.5330</text>
<text class="cb" x="2258" y="2996">−0.9050</text>

<!-- ================= PANEL C ================= -->
<text x="345" y="3213" class="ti" style="font-size:60px;text-anchor:start">C</text>
<text x="2189" y="3213" class="ti" style="font-size:36px">Correlation</text>

<g transform="translate(752,3252) scale(67.45,71.72)" shape-rendering="crispEdges">
<rect x="0" y="0" width="1" height="1" class="o3"/><rect x="1" y="0" width="1" height="1" class="oq"/><rect x="2" y="0" width="1" height="1" class="oq"/><rect x="3" y="0" width="1" height="1" class="t7"/><rect x="4" y="0" width="1" height="1" class="t7"/><rect x="5" y="0" width="1" height="1" class="o7"/><rect x="6" y="0" width="1" height="1" class="o1"/><rect x="7" y="0" width="1" height="1" class="oq"/><rect x="8" y="0" width="1" height="1" class="o1"/><rect x="9" y="0" width="1" height="1" class="o4"/><rect x="10" y="0" width="1" height="1" class="t6"/><rect x="11" y="0" width="1" height="1" class="oq"/><rect x="12" y="0" width="1" height="1" class="o5"/><rect x="13" y="0" width="1" height="1" class="oq"/><rect x="14" y="0" width="1" height="1" class="o3"/><rect x="15" y="0" width="1" height="1" class="oq"/><rect x="16" y="0" width="1" height="1" class="oq"/><rect x="17" y="0" width="1" height="1" class="oq"/><rect x="18" y="0" width="1" height="1" class="t7"/><rect x="19" y="0" width="1" height="1" class="w1"/>
<rect x="0" y="1" width="1" height="1" class="w1"/><rect x="1" y="1" width="1" height="1" class="w1"/><rect x="2" y="1" width="1" height="1" class="t7"/><rect x="3" y="1" width="1" height="1" class="t7"/><rect x="4" y="1" width="1" height="1" class="t7"/><rect x="5" y="1" width="1" height="1" class="o5"/><rect x="6" y="1" width="1" height="1" class="t4"/><rect x="7" y="1" width="1" height="1" class="w2"/><rect x="8" y="1" width="1" height="1" class="w1"/><rect x="9" y="1" width="1" height="1" class="w2"/><rect x="10" y="1" width="1" height="1" class="t3"/><rect x="11" y="1" width="1" height="1" class="o8"/><rect x="12" y="1" width="1" height="1" class="o2"/><rect x="13" y="1" width="1" height="1" class="w2"/><rect x="14" y="1" width="1" height="1" class="o7"/><rect x="15" y="1" width="1" height="1" class="w1"/><rect x="16" y="1" width="1" height="1" class="w1"/><rect x="17" y="1" width="1" height="1" class="w1"/><rect x="18" y="1" width="1" height="1" class="t7"/><rect x="19" y="1" width="1" height="1" class="o3"/>
<rect x="0" y="2" width="1" height="1" class="t3"/><rect x="1" y="2" width="1" height="1" class="t3"/><rect x="2" y="2" width="1" height="1" class="t5"/><rect x="3" y="2" width="1" height="1" class="w2"/><rect x="4" y="2" width="1" height="1" class="o1"/><rect x="5" y="2" width="1" height="1" class="t6"/><rect x="6" y="2" width="1" height="1" class="o3"/><rect x="7" y="2" width="1" height="1" class="t2"/><rect x="8" y="2" width="1" height="1" class="t5"/><rect x="9" y="2" width="1" height="1" class="t2"/><rect x="10" y="2" width="1" height="1" class="t6"/><rect x="11" y="2" width="1" height="1" class="t2"/><rect x="12" y="2" width="1" height="1" class="t2"/><rect x="13" y="2" width="1" height="1" class="o2"/><rect x="14" y="2" width="1" height="1" class="t1"/><rect x="15" y="2" width="1" height="1" class="t3"/><rect x="16" y="2" width="1" height="1" class="t3"/><rect x="17" y="2" width="1" height="1" class="t3"/><rect x="18" y="2" width="1" height="1" class="w2"/><rect x="19" y="2" width="1" height="1" class="t7"/>
<rect x="0" y="3" width="1" height="1" class="t6"/><rect x="1" y="3" width="1" height="1" class="t6"/><rect x="2" y="3" width="1" height="1" class="t4"/><rect x="3" y="3" width="1" height="1" class="t7"/><rect x="4" y="3" width="1" height="1" class="t8"/><rect x="5" y="3" width="1" height="1" class="o5"/><rect x="6" y="3" width="1" height="1" class="t3"/><rect x="7" y="3" width="1" height="1" class="t7"/><rect x="8" y="3" width="1" height="1" class="t8"/><rect x="9" y="3" width="1" height="1" class="t8"/><rect x="10" y="3" width="1" height="1" class="t3"/><rect x="11" y="3" width="1" height="1" class="o8"/><rect x="12" y="3" width="1" height="1" class="t8"/><rect x="13" y="3" width="1" height="1" class="t5"/><rect x="14" y="3" width="1" height="1" class="o7"/><rect x="15" y="3" width="1" height="1" class="t6"/><rect x="16" y="3" width="1" height="1" class="t6"/><rect x="17" y="3" width="1" height="1" class="t6"/><rect x="18" y="3" width="1" height="1" class="t7"/><rect x="19" y="3" width="1" height="1" class="o4"/>
<rect x="0" y="4" width="1" height="1" class="w2"/><rect x="1" y="4" width="1" height="1" class="t7"/><rect x="2" y="4" width="1" height="1" class="w2"/><rect x="3" y="4" width="1" height="1" class="t3"/><rect x="4" y="4" width="1" height="1" class="t3"/><rect x="5" y="4" width="1" height="1" class="w2"/><rect x="6" y="4" width="1" height="1" class="o7"/><rect x="7" y="4" width="1" height="1" class="t8"/><rect x="8" y="4" width="1" height="1" class="t5"/><rect x="9" y="4" width="1" height="1" class="t8"/><rect x="10" y="4" width="1" height="1" class="t2"/><rect x="11" y="4" width="1" height="1" class="t6"/><rect x="12" y="4" width="1" height="1" class="t4"/><rect x="13" y="4" width="1" height="1" class="o2"/><rect x="14" y="4" width="1" height="1" class="t4"/><rect x="15" y="4" width="1" height="1" class="w1"/><rect x="16" y="4" width="1" height="1" class="w1"/><rect x="17" y="4" width="1" height="1" class="w1"/><rect x="18" y="4" width="1" height="1" class="t3"/><rect x="19" y="4" width="1" height="1" class="t4"/>
<rect x="0" y="5" width="1" height="1" class="t7"/><rect x="1" y="5" width="1" height="1" class="t6"/><rect x="2" y="5" width="1" height="1" class="t5"/><rect x="3" y="5" width="1" height="1" class="t8"/><rect x="4" y="5" width="1" height="1" class="t8"/><rect x="5" y="5" width="1" height="1" class="o6"/><rect x="6" y="5" width="1" height="1" class="t5"/><rect x="7" y="5" width="1" height="1" class="t8"/><rect x="8" y="5" width="1" height="1" class="w1"/><rect x="9" y="5" width="1" height="1" class="t7"/><rect x="10" y="5" width="1" height="1" class="t4"/><rect x="11" y="5" width="1" height="1" class="o9"/><rect x="12" y="5" width="1" height="1" class="t4"/><rect x="13" y="5" width="1" height="1" class="w2"/><rect x="14" y="5" width="1" height="1" class="o8"/><rect x="15" y="5" width="1" height="1" class="t6"/><rect x="16" y="5" width="1" height="1" class="t6"/><rect x="17" y="5" width="1" height="1" class="t6"/><rect x="18" y="5" width="1" height="1" class="t8"/><rect x="19" y="5" width="1" height="1" class="oq"/>
<rect x="0" y="6" width="1" height="1" class="w2"/><rect x="1" y="6" width="1" height="1" class="t7"/><rect x="2" y="6" width="1" height="1" class="t8"/><rect x="3" y="6" width="1" height="1" class="t6"/><rect x="4" y="6" width="1" height="1" class="t4"/><rect x="5" y="6" width="1" height="1" class="o5"/><rect x="6" y="6" width="1" height="1" class="t8"/><rect x="7" y="6" width="1" height="1" class="o1"/><rect x="8" y="6" width="1" height="1" class="o1"/><rect x="9" y="6" width="1" height="1" class="w2"/><rect x="10" y="6" width="1" height="1" class="t4"/><rect x="11" y="6" width="1" height="1" class="o8"/><rect x="12" y="6" width="1" height="1" class="w1"/><rect x="13" y="6" width="1" height="1" class="o3"/><rect x="14" y="6" width="1" height="1" class="o7"/><rect x="15" y="6" width="1" height="1" class="w1"/><rect x="16" y="6" width="1" height="1" class="w1"/><rect x="17" y="6" width="1" height="1" class="w1"/><rect x="18" y="6" width="1" height="1" class="t6"/><rect x="19" y="6" width="1" height="1" class="o3"/>
<rect x="0" y="7" width="1" height="1" class="t4"/><rect x="1" y="7" width="1" height="1" class="t4"/><rect x="2" y="7" width="1" height="1" class="t3"/><rect x="3" y="7" width="1" height="1" class="t7"/><rect x="4" y="7" width="1" height="1" class="t7"/><rect x="5" y="7" width="1" height="1" class="o5"/><rect x="6" y="7" width="1" height="1" class="t7"/><rect x="7" y="7" width="1" height="1" class="t5"/><rect x="8" y="7" width="1" height="1" class="t7"/><rect x="9" y="7" width="1" height="1" class="t6"/><rect x="10" y="7" width="1" height="1" class="t2"/><rect x="11" y="7" width="1" height="1" class="o6"/><rect x="12" y="7" width="1" height="1" class="t4"/><rect x="13" y="7" width="1" height="1" class="t7"/><rect x="14" y="7" width="1" height="1" class="o5"/><rect x="15" y="7" width="1" height="1" class="t4"/><rect x="16" y="7" width="1" height="1" class="t4"/><rect x="17" y="7" width="1" height="1" class="t4"/><rect x="18" y="7" width="1" height="1" class="t7"/><rect x="19" y="7" width="1" height="1" class="oq"/>
<rect x="0" y="8" width="1" height="1" class="t4"/><rect x="1" y="8" width="1" height="1" class="t5"/><rect x="2" y="8" width="1" height="1" class="t4"/><rect x="3" y="8" width="1" height="1" class="t6"/><rect x="4" y="8" width="1" height="1" class="t7"/><rect x="5" y="8" width="1" height="1" class="w2"/><rect x="6" y="8" width="1" height="1" class="o3"/><rect x="7" y="8" width="1" height="1" class="t6"/><rect x="8" y="8" width="1" height="1" class="t5"/><rect x="9" y="8" width="1" height="1" class="t6"/><rect x="10" y="8" width="1" height="1" class="t6"/><rect x="11" y="8" width="1" height="1" class="t5"/><rect x="12" y="8" width="1" height="1" class="t4"/><rect x="13" y="8" width="1" height="1" class="t5"/><rect x="14" y="8" width="1" height="1" class="t7"/><rect x="15" y="8" width="1" height="1" class="t4"/><rect x="16" y="8" width="1" height="1" class="t4"/><rect x="17" y="8" width="1" height="1" class="t4"/><rect x="18" y="8" width="1" height="1" class="t6"/><rect x="19" y="8" width="1" height="1" class="o2"/>
<rect x="0" y="9" width="1" height="1" class="t4"/><rect x="1" y="9" width="1" height="1" class="t4"/><rect x="2" y="9" width="1" height="1" class="t5"/><rect x="3" y="9" width="1" height="1" class="t6"/><rect x="4" y="9" width="1" height="1" class="t7"/><rect x="5" y="9" width="1" height="1" class="w1"/><rect x="6" y="9" width="1" height="1" class="o4"/><rect x="7" y="9" width="1" height="1" class="t4"/><rect x="8" y="9" width="1" height="1" class="t4"/><rect x="9" y="9" width="1" height="1" class="t5"/><rect x="10" y="9" width="1" height="1" class="t3"/><rect x="11" y="9" width="1" height="1" class="t6"/><rect x="12" y="9" width="1" height="1" class="t3"/><rect x="13" y="9" width="1" height="1" class="t8"/><rect x="14" y="9" width="1" height="1" class="t4"/><rect x="15" y="9" width="1" height="1" class="t4"/><rect x="16" y="9" width="1" height="1" class="t4"/><rect x="17" y="9" width="1" height="1" class="t4"/><rect x="18" y="9" width="1" height="1" class="t6"/><rect x="19" y="9" width="1" height="1" class="w1"/>
<rect x="0" y="10" width="1" height="1" class="o2"/><rect x="1" y="10" width="1" height="1" class="t6"/><rect x="2" y="10" width="1" height="1" class="o1"/><rect x="3" y="10" width="1" height="1" class="t3"/><rect x="4" y="10" width="1" height="1" class="t2"/><rect x="5" y="10" width="1" height="1" class="o3"/><rect x="6" y="10" width="1" height="1" class="o7"/><rect x="7" y="10" width="1" height="1" class="w1"/><rect x="8" y="10" width="1" height="1" class="t5"/><rect x="9" y="10" width="1" height="1" class="t8"/><rect x="10" y="10" width="1" height="1" class="t1"/><rect x="11" y="10" width="1" height="1" class="w1"/><rect x="12" y="10" width="1" height="1" class="t4"/><rect x="13" y="10" width="1" height="1" class="o3"/><rect x="14" y="10" width="1" height="1" class="t6"/><rect x="15" y="10" width="1" height="1" class="w2"/><rect x="16" y="10" width="1" height="1" class="w2"/><rect x="17" y="10" width="1" height="1" class="w2"/><rect x="18" y="10" width="1" height="1" class="t3"/><rect x="19" y="10" width="1" height="1" class="t3"/>
<rect x="0" y="11" width="1" height="1" class="w1"/><rect x="1" y="11" width="1" height="1" class="w2"/><rect x="2" y="11" width="1" height="1" class="w2"/><rect x="3" y="11" width="1" height="1" class="w1"/><rect x="4" y="11" width="1" height="1" class="w2"/><rect x="5" y="11" width="1" height="1" class="t7"/><rect x="6" y="11" width="1" height="1" class="o5"/><rect x="7" y="11" width="1" height="1" class="t7"/><rect x="8" y="11" width="1" height="1" class="t7"/><rect x="9" y="11" width="1" height="1" class="w1"/><rect x="10" y="11" width="1" height="1" class="t7"/><rect x="11" y="11" width="1" height="1" class="t1"/><rect x="12" y="11" width="1" height="1" class="t6"/><rect x="13" y="11" width="1" height="1" class="o1"/><rect x="14" y="11" width="1" height="1" class="t1"/><rect x="15" y="11" width="1" height="1" class="w1"/><rect x="16" y="11" width="1" height="1" class="w1"/><rect x="17" y="11" width="1" height="1" class="w1"/><rect x="18" y="11" width="1" height="1" class="w1"/><rect x="19" y="11" width="1" height="1" class="t6"/>
<rect x="0" y="12" width="1" height="1" class="t6"/><rect x="1" y="12" width="1" height="1" class="t6"/><rect x="2" y="12" width="1" height="1" class="t8"/><rect x="3" y="12" width="1" height="1" class="w1"/><rect x="4" y="12" width="1" height="1" class="w2"/><rect x="5" y="12" width="1" height="1" class="w1"/><rect x="6" y="12" width="1" height="1" class="o5"/><rect x="7" y="12" width="1" height="1" class="t4"/><rect x="8" y="12" width="1" height="1" class="t5"/><rect x="9" y="12" width="1" height="1" class="t6"/><rect x="10" y="12" width="1" height="1" class="t6"/><rect x="11" y="12" width="1" height="1" class="t2"/><rect x="12" y="12" width="1" height="1" class="t6"/><rect x="13" y="12" width="1" height="1" class="w1"/><rect x="14" y="12" width="1" height="1" class="t2"/><rect x="15" y="12" width="1" height="1" class="t6"/><rect x="16" y="12" width="1" height="1" class="t6"/><rect x="17" y="12" width="1" height="1" class="t6"/><rect x="18" y="12" width="1" height="1" class="w1"/><rect x="19" y="12" width="1" height="1" class="t8"/>
<rect x="0" y="13" width="1" height="1" class="w1"/><rect x="1" y="13" width="1" height="1" class="t5"/><rect x="2" y="13" width="1" height="1" class="t8"/><rect x="3" y="13" width="1" height="1" class="t3"/><rect x="4" y="13" width="1" height="1" class="t3"/><rect x="5" y="13" width="1" height="1" class="o1"/><rect x="6" y="13" width="1" height="1" class="o6"/><rect x="7" y="13" width="1" height="1" class="t6"/><rect x="8" y="13" width="1" height="1" class="t4"/><rect x="9" y="13" width="1" height="1" class="t6"/><rect x="10" y="13" width="1" height="1" class="t1"/><rect x="11" y="13" width="1" height="1" class="w1"/><rect x="12" y="13" width="1" height="1" class="t3"/><rect x="13" y="13" width="1" height="1" class="o1"/><rect x="14" y="13" width="1" height="1" class="t6"/><rect x="15" y="13" width="1" height="1" class="t7"/><rect x="16" y="13" width="1" height="1" class="t7"/><rect x="17" y="13" width="1" height="1" class="t7"/><rect x="18" y="13" width="1" height="1" class="t3"/><rect x="19" y="13" width="1" height="1" class="t5"/>
<rect x="0" y="14" width="1" height="1" class="t4"/><rect x="1" y="14" width="1" height="1" class="t4"/><rect x="2" y="14" width="1" height="1" class="t4"/><rect x="3" y="14" width="1" height="1" class="t6"/><rect x="4" y="14" width="1" height="1" class="t7"/><rect x="5" y="14" width="1" height="1" class="o2"/><rect x="6" y="14" width="1" height="1" class="o1"/><rect x="7" y="14" width="1" height="1" class="t3"/><rect x="8" y="14" width="1" height="1" class="t4"/><rect x="9" y="14" width="1" height="1" class="t5"/><rect x="10" y="14" width="1" height="1" class="t2"/><rect x="11" y="14" width="1" height="1" class="w1"/><rect x="12" y="14" width="1" height="1" class="t4"/><rect x="13" y="14" width="1" height="1" class="t7"/><rect x="14" y="14" width="1" height="1" class="t7"/><rect x="15" y="14" width="1" height="1" class="t4"/><rect x="16" y="14" width="1" height="1" class="t4"/><rect x="17" y="14" width="1" height="1" class="t4"/><rect x="18" y="14" width="1" height="1" class="t6"/><rect x="19" y="14" width="1" height="1" class="o1"/>
<rect x="0" y="15" width="1" height="1" class="o2"/><rect x="1" y="15" width="1" height="1" class="o1"/><rect x="2" y="15" width="1" height="1" class="o4"/><rect x="3" y="15" width="1" height="1" class="t7"/><rect x="4" y="15" width="1" height="1" class="t8"/><rect x="5" y="15" width="1" height="1" class="t4"/><rect x="6" y="15" width="1" height="1" class="o6"/><rect x="7" y="15" width="1" height="1" class="w2"/><rect x="8" y="15" width="1" height="1" class="t5"/><rect x="9" y="15" width="1" height="1" class="w1"/><rect x="10" y="15" width="1" height="1" class="w2"/><rect x="11" y="15" width="1" height="1" class="t0"/><rect x="12" y="15" width="1" height="1" class="t5"/><rect x="13" y="15" width="1" height="1" class="w1"/><rect x="14" y="15" width="1" height="1" class="t0"/><rect x="15" y="15" width="1" height="1" class="o2"/><rect x="16" y="15" width="1" height="1" class="o2"/><rect x="17" y="15" width="1" height="1" class="o2"/><rect x="18" y="15" width="1" height="1" class="t7"/><rect x="19" y="15" width="1" height="1" class="t2"/>
<rect x="0" y="16" width="1" height="1" class="o5"/><rect x="1" y="16" width="1" height="1" class="o5"/><rect x="2" y="16" width="1" height="1" class="o5"/><rect x="3" y="16" width="1" height="1" class="o2"/><rect x="4" y="16" width="1" height="1" class="o2"/><rect x="5" y="16" width="1" height="1" class="t8"/><rect x="6" y="16" width="1" height="1" class="oq"/><rect x="7" y="16" width="1" height="1" class="o4"/><rect x="8" y="16" width="1" height="1" class="o2"/><rect x="9" y="16" width="1" height="1" class="oq"/><rect x="10" y="16" width="1" height="1" class="o6"/><rect x="11" y="16" width="1" height="1" class="t7"/><rect x="12" y="16" width="1" height="1" class="oq"/><rect x="13" y="16" width="1" height="1" class="o1"/><rect x="14" y="16" width="1" height="1" class="w1"/><rect x="15" y="16" width="1" height="1" class="o5"/><rect x="16" y="16" width="1" height="1" class="o5"/><rect x="17" y="16" width="1" height="1" class="o5"/><rect x="18" y="16" width="1" height="1" class="o2"/><rect x="19" y="16" width="1" height="1" class="t7"/>
<rect x="0" y="17" width="1" height="1" class="o3"/><rect x="1" y="17" width="1" height="1" class="oq"/><rect x="2" y="17" width="1" height="1" class="o4"/><rect x="3" y="17" width="1" height="1" class="w2"/><rect x="4" y="17" width="1" height="1" class="o1"/><rect x="5" y="17" width="1" height="1" class="w2"/><rect x="6" y="17" width="1" height="1" class="o5"/><rect x="7" y="17" width="1" height="1" class="o1"/><rect x="8" y="17" width="1" height="1" class="w2"/><rect x="9" y="17" width="1" height="1" class="o3"/><rect x="10" y="17" width="1" height="1" class="t8"/><rect x="11" y="17" width="1" height="1" class="t1"/><rect x="12" y="17" width="1" height="1" class="o4"/><rect x="13" y="17" width="1" height="1" class="o4"/><rect x="14" y="17" width="1" height="1" class="t1"/><rect x="15" y="17" width="1" height="1" class="o3"/><rect x="16" y="17" width="1" height="1" class="o3"/><rect x="17" y="17" width="1" height="1" class="o3"/><rect x="18" y="17" width="1" height="1" class="w2"/><rect x="19" y="17" width="1" height="1" class="t7"/>
</g>
<rect x="752" y="3252" width="1349" height="1291" fill="none" stroke="#111" stroke-width="4"/>

<path d="M728 3287.9h24M728 3359.6h24M728 3431.3h24M728 3503h24M728 3574.7h24M728 3646.4h24M728 3718.2h24M728 3789.9h24M728 3861.6h24M728 3933.3h24M728 4005h24M728 4076.7h24M728 4148.5h24M728 4220.2h24M728 4291.9h24M728 4363.6h24M728 4435.3h24M728 4507h24" stroke="#111" stroke-width="4"/>
<text class="yl" style="font-size:36.5px" x="711" y="3300">Vanillic_acid</text>
<text class="yl" style="font-size:36.5px" x="711" y="3372">trans-5-O-(4-Coumaroyl)-D-quinate</text>
<text class="yl" style="font-size:36.5px" x="711" y="3443">Tetrahydrofolate</text>
<text class="yl" style="font-size:36.5px" x="711" y="3515">Sinapyl_alcohol</text>
<text class="yl" style="font-size:36.5px" x="711" y="3587">Sinapaldehyde</text>
<text class="yl" style="font-size:36.5px" x="711" y="3658">p-Coumaroyl_quinic_acid</text>
<text class="yl" style="font-size:36.5px" x="711" y="3730">Methylthioadenosine</text>
<text class="yl" style="font-size:36.5px" x="711" y="3802">L-Phenylalanine</text>
<text class="yl" style="font-size:36.5px" x="711" y="3874">Gentisic_acid</text>
<text class="yl" style="font-size:36.5px" x="711" y="3945">Ferulic_acid</text>
<text class="yl" style="font-size:36.5px" x="711" y="4017">Coniferyl_aldehyde</text>
<text class="yl" style="font-size:36.5px" x="711" y="4089">Coniferyl_alcohol</text>
<text class="yl" style="font-size:36.5px" x="711" y="4160">Coniferin</text>
<text class="yl" style="font-size:36.5px" x="711" y="4232">Cinnamaldehyde</text>
<text class="yl" style="font-size:36.5px" x="711" y="4304">Caffeic_acid</text>
<text class="yl" style="font-size:36.5px" x="711" y="4376">5-O-Caffeoylshikimic_acid</text>
<text class="yl" style="font-size:36.5px" x="711" y="4447">3-O-Methylgallate</text>
<text class="yl" style="font-size:36.5px" x="711" y="4519">1-O-Sinapoyl-beta-D-glucose</text>

<path d="M785.7 4543v25M853.2 4543v25M920.6 4543v25M988.1 4543v25M1055.5 4543v25M1123 4543v25M1190.4 4543v25M1257.9 4543v25M1325.3 4543v25M1392.8 4543v25M1460.2 4543v25M1527.7 4543v25M1595.1 4543v25M1662.6 4543v25M1730 4543v25M1797.5 4543v25M1864.9 4543v25M1932.4 4543v25M1999.8 4543v25M2067.3 4543v25" stroke="#111" stroke-width="4"/>
<text class="xl" transform="translate(810.7,4615) rotate(-45)">cZ</text>
<text class="xl" transform="translate(878.2,4615) rotate(-45)">cZ9G</text>
<text class="xl" transform="translate(945.6,4615) rotate(-45)">cZOG</text>
<text class="xl" transform="translate(1013.1,4615) rotate(-45)">cZR</text>
<text class="xl" transform="translate(1080.5,4615) rotate(-45)">cZROG</text>
<text class="xl" transform="translate(1148,4615) rotate(-45)">DZ</text>
<text class="xl" transform="translate(1215.4,4615) rotate(-45)">DZ9G</text>
<text class="xl" transform="translate(1282.9,4615) rotate(-45)">DZOG</text>
<text class="xl" transform="translate(1350.3,4615) rotate(-45)">DZR</text>
<text class="xl" transform="translate(1417.8,4615) rotate(-45)">DZROG</text>
<text class="xl" transform="translate(1485.2,4615) rotate(-45)">iP</text>
<text class="xl" transform="translate(1552.7,4615) rotate(-45)">iP7G</text>
<text class="xl" transform="translate(1620.1,4615) rotate(-45)">iP9G</text>
<text class="xl" transform="translate(1687.6,4615) rotate(-45)">iPR</text>
<text class="xl" transform="translate(1755,4615) rotate(-45)">tZ</text>
<text class="xl" transform="translate(1822.5,4615) rotate(-45)">tZ7G</text>
<text class="xl" transform="translate(1889.9,4615) rotate(-45)">tZ9G</text>
<text class="xl" transform="translate(1957.4,4615) rotate(-45)">tZOG</text>
<text class="xl" transform="translate(2024.8,4615) rotate(-45)">tZR</text>
<text class="xl" transform="translate(2092.3,4615) rotate(-45)">tZROG</text>

<use href="#cbar" transform="translate(2163,3252) scale(61,43)" shape-rendering="crispEdges"/>
<rect x="2163" y="3252" width="61" height="1290" fill="none" stroke="#222" stroke-width="3"/>
<path d="M2224 3252h23M2224 3510h23M2224 3768h23M2224 4026h23M2224 4284h23M2224 4542h23" stroke="#222" stroke-width="3"/>
<text class="cb" x="2264" y="3264">0.8800</text>
<text class="cb" x="2264" y="3522">0.5150</text>
<text class="cb" x="2264" y="3780">0.1500</text>
<text class="cb" x="2264" y="4038">−0.2150</text>
<text class="cb" x="2264" y="4296">−0.5800</text>
<text class="cb" x="2264" y="4554">−0.9450</text>
</svg>
</body></html>
